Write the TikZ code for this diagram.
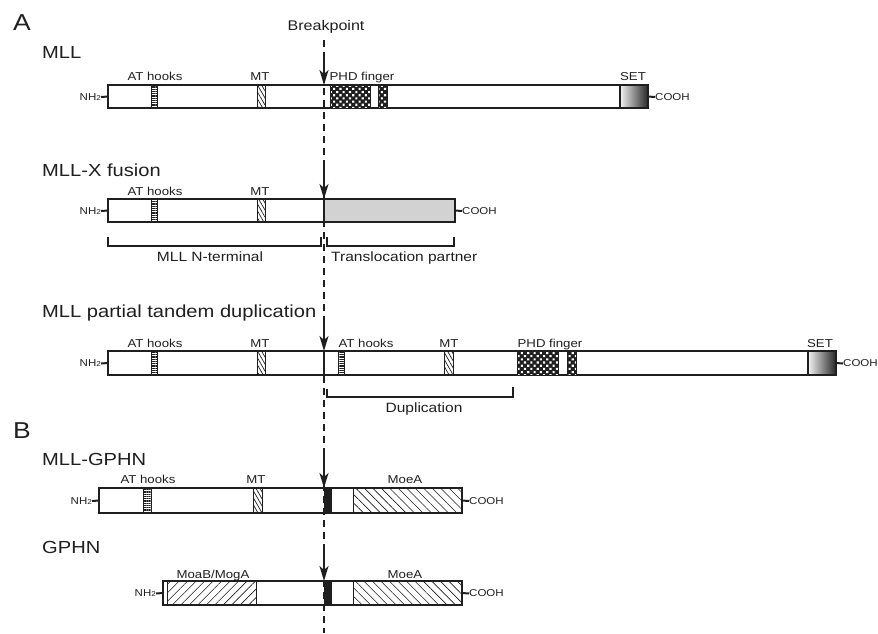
\documentclass[tikz,border=0pt]{standalone}
\usepackage{fontspec}
\setmainfont{Liberation Sans}[FakeStretch=1.15]
\usetikzlibrary{patterns.meta,arrows.meta}
\definecolor{ink}{gray}{0.12}
\tikzset{
  bar/.style={draw=ink, line width=1.2pt, fill=white},
  athook/.style={draw=ink, line width=0.9pt, pattern={Lines[angle=0,distance=1.8pt,line width=0.6pt]}, pattern color=ink},
  mtbox/.style={draw=ink, line width=0.9pt, pattern={Lines[angle=-60,distance=3.5pt,line width=0.7pt]}, pattern color=ink},
  moea/.style={draw=ink, line width=0.8pt, pattern={Lines[angle=-45,distance=6pt,line width=0.6pt]}, pattern color=ink},
  moab/.style={draw=ink, line width=0.8pt, pattern={Lines[angle=45,distance=6pt,line width=0.6pt]}, pattern color=ink},
  phddots/.style={pattern={Dots[angle=45,distance=4.5pt,radius=1.5pt]}, pattern color=white},
  setbox/.style={draw=ink, line width=1.2pt, left color=gray!10, right color=black!85},
  lbl/.style={font=\fontsize{11.5}{12}\selectfont, text=ink, anchor=base, inner sep=0pt},
  title/.style={font=\fontsize{17.5}{19}\selectfont, text=ink, anchor=base west, inner sep=0pt},
  panel/.style={font=\fontsize{23}{24}\selectfont, text=ink, anchor=base west, inner sep=0pt},
  brlbl/.style={font=\fontsize{13.5}{14}\selectfont, text=ink, anchor=base, inner sep=0pt},
  term/.style={font=\fontsize{10}{11}\selectfont, text=ink, inner sep=0pt},
  stub/.style={draw=ink, line width=2pt},
  bracket/.style={draw=ink, line width=1.1pt},
  brkline/.style={draw=ink, line width=1.3pt, dash pattern=on 7pt off 5pt},
  brkarrow/.style={draw=ink, line width=1.5pt, -{Stealth[length=15pt,width=9pt,inset=4pt]}}
}
\newcommand{\phdblock}[4]{%
  \fill[ink] (#1,#3) rectangle (#2,#4);
  \path[phddots] (#1,#3) rectangle (#2,#4);
  \draw[ink, line width=0.9pt] (#1,#3) rectangle (#2,#4);}
\newcommand{\nh}{NH{\fontsize{7}{7}\selectfont 2}}
\begin{document}
\begin{tikzpicture}[x=1pt, y=-1pt]
\useasboundingbox (0,0) rectangle (878,633);

% panel A
\node[panel] (pa) at (13,30) {A};
\node[font=\fontsize{14}{15}\selectfont, text=ink, anchor=base, inner sep=0pt] (brk) at (326,30) {Breakpoint};

% MLL
\node[title] (tmll) at (42,58) {MLL};
\draw[bar] (108,85) rectangle (648,108);
\path[athook] (151,85) rectangle (157,108);
\path[mtbox] (257,85) rectangle (265,108);
\phdblock{330}{370}{85}{108}
\phdblock{378}{387}{85}{108}
\draw[setbox] (620,85) rectangle (648,108);
\coordinate (mllL) at (108,96.5);
\coordinate (mllR) at (648,96.5);
\node[term, anchor=east] (mllN) at (101,97) {\nh};
\node[term, anchor=west] (mllC) at (655,97) {COOH};
\draw[stub] (mllN.east) -- (mllL);
\draw[stub] (mllR) -- (mllC.west);
\node[lbl] (mllat) at (155,80) {AT hooks};
\node[lbl] (mllmt) at (260,80) {MT};
\node[lbl] (mllphd) at (362,80) {PHD finger};
\node[lbl] (mllset) at (633,80) {SET};

% MLL-X fusion
\node[title] (tfus) at (42,176) {MLL-X fusion};
\draw[bar] (108,199) rectangle (455,222);
\filldraw[fill=gray!35, draw=ink, line width=1.2pt] (324,199) rectangle (455,222);
\path[athook] (151,199) rectangle (157,222);
\path[mtbox] (257,199) rectangle (265,222);
\coordinate (fusL) at (108,210.5);
\coordinate (fusR) at (455,210.5);
\node[term, anchor=east] (fusN) at (101,211) {\nh};
\node[term, anchor=west] (fusC) at (462,211) {COOH};
\draw[stub] (fusN.east) -- (fusL);
\draw[stub] (fusR) -- (fusC.west);
\node[lbl] (fusat) at (155,195) {AT hooks};
\node[lbl] (fusmt) at (260,195) {MT};
\draw[bracket] (108,237) -- (108,246) -- (321,246) -- (321,237);
\draw[bracket] (327,237) -- (327,246) -- (454,246) -- (454,237);
\node[brlbl] (nterm) at (210,261) {MLL N-terminal};
\node[brlbl, anchor=base west] (partner) at (331,261) {Translocation partner};

% MLL partial tandem duplication
\node[title] (tptd) at (42,317) {MLL partial tandem duplication};
\draw[bar] (108,351) rectangle (836,375);
\draw[ink, line width=1.2pt] (324,351) -- (324,375);
\path[athook] (151,351) rectangle (157,375);
\path[mtbox] (257,351) rectangle (265,375);
\path[athook] (338,351) rectangle (344,375);
\path[mtbox] (444,351) rectangle (453,375);
\phdblock{517}{558}{351}{375}
\phdblock{567}{576}{351}{375}
\draw[setbox] (808,351) rectangle (836,375);
\coordinate (ptdL) at (108,363);
\coordinate (ptdR) at (836,363);
\node[term, anchor=east] (ptdN) at (101,363.5) {\nh};
\node[term, anchor=west] (ptdC) at (843,363.5) {COOH};
\draw[stub] (ptdN.east) -- (ptdL);
\draw[stub] (ptdR) -- (ptdC.west);
\node[lbl] (ptdat) at (155,347) {AT hooks};
\node[lbl] (ptdmt) at (260,347) {MT};
\node[lbl] (ptdat2) at (366,347) {AT hooks};
\node[lbl] (ptdmt2) at (449,347) {MT};
\node[lbl] (ptdphd) at (550,347) {PHD finger};
\node[lbl] (ptdset) at (820,347) {SET};
\draw[bracket] (327,389) -- (327,397) -- (513,397) -- (513,387);
\node[brlbl] (dup) at (424,412) {Duplication};

% panel B
\node[panel] (pb) at (13,438) {B};

% MLL-GPHN
\node[title] (tmg) at (42,465) {MLL-GPHN};
\draw[bar] (99,488) rectangle (462,513);
\path[athook] (143,488) rectangle (151,513);
\path[mtbox] (253,488) rectangle (262,513);
\fill[ink] (324,488) rectangle (332,513);
\path[moea] (353,488) rectangle (462,513);
\coordinate (mgL) at (99,500.5);
\coordinate (mgR) at (462,500.5);
\node[term, anchor=east] (mgN) at (92,501) {\nh};
\node[term, anchor=west] (mgC) at (469,501) {COOH};
\draw[stub] (mgN.east) -- (mgL);
\draw[stub] (mgR) -- (mgC.west);
\node[lbl] (mgat) at (148,483) {AT hooks};
\node[lbl] (mgmt) at (256,483) {MT};
\node[lbl] (mgmoea) at (405,483) {MoeA};

% GPHN
\node[title] (tg) at (42,553) {GPHN};
\draw[bar] (163,581) rectangle (462,605);
\path[moab] (167,581) rectangle (256,605);
\fill[ink] (324,581) rectangle (332,605);
\path[moea] (353,581) rectangle (462,605);
\coordinate (gL) at (163,593);
\coordinate (gR) at (462,593);
\node[term, anchor=east] (gN) at (156,593.5) {\nh};
\node[term, anchor=west] (gC) at (469,593.5) {COOH};
\draw[stub] (gN.east) -- (gL);
\draw[stub] (gR) -- (gC.west);
\node[lbl] (gmoab) at (213,578) {MoaB/MogA};
\node[lbl] (gmoea) at (405,578) {MoeA};

% breakpoint line and arrows
\coordinate (brktop) at (324,40);
\coordinate (brkbot) at (324,633);
\draw[brkline] (brktop) -- (brkbot);
\foreach \ya/\yb in {52/85, 164/199, 318/351, 450/488, 545/581}
  \draw[brkarrow] (324,\ya) -- (324,\yb);
\end{tikzpicture}
\end{document}
